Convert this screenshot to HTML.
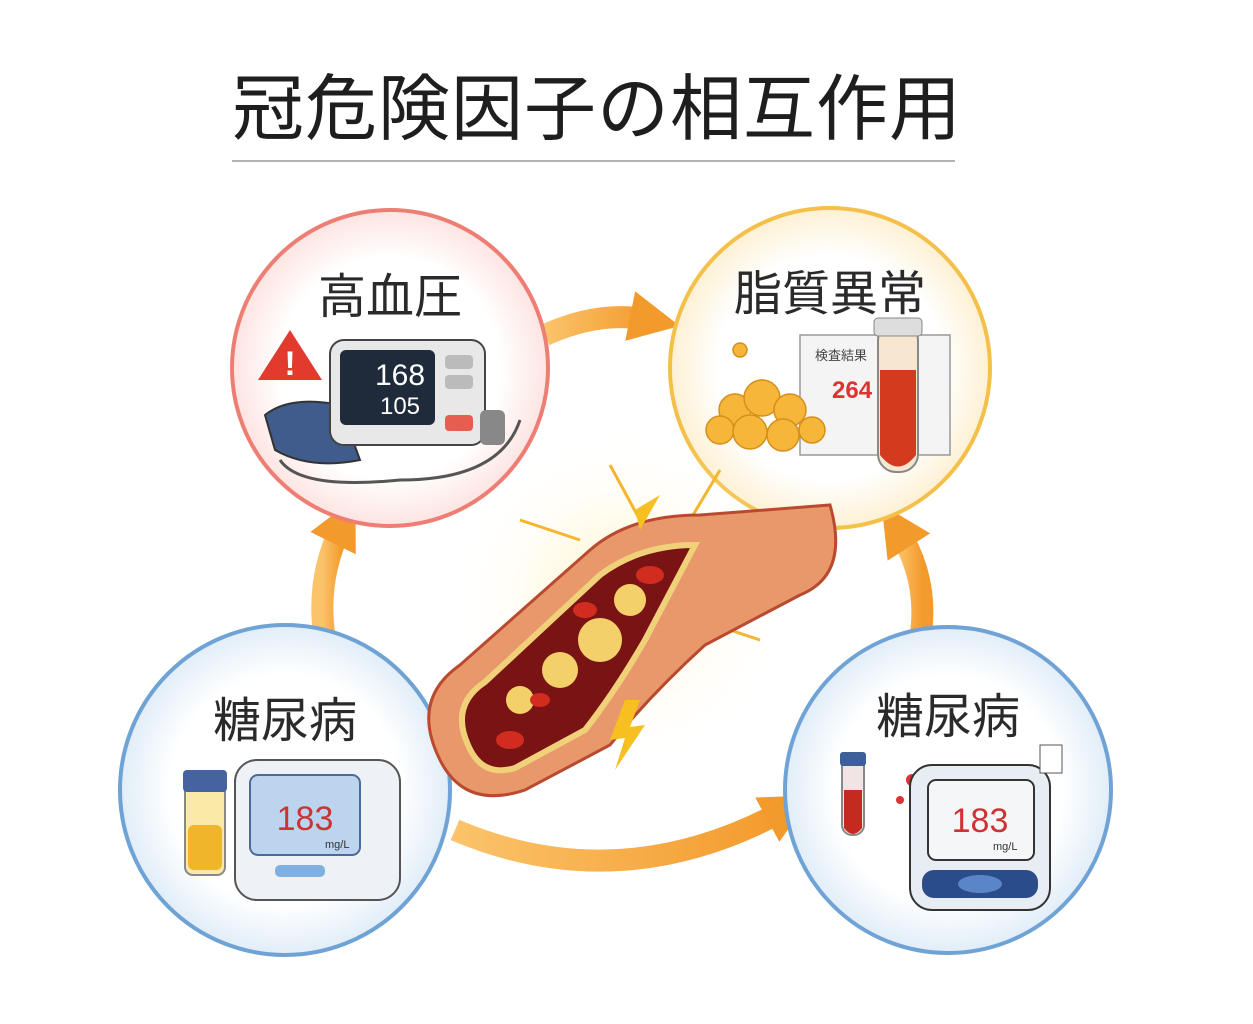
<!DOCTYPE html>
<html><head><meta charset="utf-8"><style>
html,body{margin:0;padding:0;background:#fff;}
svg{display:block;}
text{font-family:"Liberation Sans","Noto Sans CJK JP",sans-serif;}
</style></head><body>
<svg width="1253" height="1024" viewBox="0 0 1253 1024" xmlns="http://www.w3.org/2000/svg">
<defs>
<radialGradient id="gr" cx="50%" cy="50%" r="50%"><stop offset="70%" stop-color="#fff"/><stop offset="100%" stop-color="#fde4e1"/></radialGradient>
<radialGradient id="gy" cx="50%" cy="50%" r="50%"><stop offset="70%" stop-color="#fff"/><stop offset="100%" stop-color="#fdf1d4"/></radialGradient>
<radialGradient id="gb" cx="50%" cy="50%" r="50%"><stop offset="70%" stop-color="#fff"/><stop offset="100%" stop-color="#e1edf8"/></radialGradient>
<radialGradient id="glow" cx="50%" cy="50%" r="50%"><stop offset="0%" stop-color="#fff3c0"/><stop offset="100%" stop-color="#fff" stop-opacity="0"/></radialGradient>
<linearGradient id="arr" x1="0" x2="1"><stop offset="0" stop-color="#fbc36a"/><stop offset="1" stop-color="#f39a2c"/></linearGradient>
<marker id="ah" viewBox="0 0 10 10" refX="4" refY="5" markerWidth="2.3" markerHeight="2.3" orient="auto"><path d="M0,0 L10,5 L0,10 z" fill="#f39a2c"/></marker>
</defs>
<text x="597" y="134" font-size="72" text-anchor="middle" fill="#1e1e1e" letter-spacing="1">冠危険因子の相互作用</text>
<line x1="232" y1="161" x2="955" y2="161" stroke="#999" stroke-width="1.5"/>

<path d="M545,335 Q600,310 650,320" stroke="url(#arr)" stroke-width="22" fill="none" marker-end="url(#ah)"/>
<path d="M325,640 Q315,580 342,525" stroke="url(#arr)" stroke-width="22" fill="none" marker-end="url(#ah)"/>
<path d="M920,640 Q930,580 898,530" stroke="url(#arr)" stroke-width="22" fill="none" marker-end="url(#ah)"/>
<path d="M455,830 Q620,900 785,810" stroke="url(#arr)" stroke-width="22" fill="none" marker-end="url(#ah)"/>

<circle cx="390" cy="368" r="158" fill="url(#gr)" stroke="#ee7d74" stroke-width="4"/>
<circle cx="830" cy="368" r="160" fill="url(#gy)" stroke="#f4c04a" stroke-width="4"/>
<circle cx="285" cy="790" r="165" fill="url(#gb)" stroke="#6fa3d6" stroke-width="4"/>
<circle cx="948" cy="790" r="163" fill="url(#gb)" stroke="#6fa3d6" stroke-width="4"/>

<text x="390" y="313" font-size="48" text-anchor="middle" fill="#2a2a2a">高血圧</text>
<text x="830" y="310" font-size="48" text-anchor="middle" fill="#2a2a2a">脂質異常</text>
<text x="285" y="737" font-size="48" text-anchor="middle" fill="#2a2a2a">糖尿病</text>
<text x="948" y="733" font-size="48" text-anchor="middle" fill="#2a2a2a">糖尿病</text>

<path d="M265,415 Q290,395 340,405 L360,460 Q310,470 275,450 z" fill="#3f5c8c" stroke="#333" stroke-width="2"/>
<path d="M280,460 Q300,490 400,480 Q500,480 520,420" stroke="#555" stroke-width="3" fill="none"/>
<polygon points="290,330 258,380 322,380" fill="#e23b2e"/>
<text x="290" y="375" font-size="34" text-anchor="middle" fill="#fff" font-weight="bold">!</text>
<rect x="330" y="340" width="155" height="105" rx="14" fill="#e8e8e8" stroke="#444" stroke-width="2"/>
<rect x="340" y="350" width="95" height="75" rx="6" fill="#1f2b3a"/>
<text x="400" y="385" font-size="30" text-anchor="middle" fill="#fff">168</text>
<text x="400" y="414" font-size="24" text-anchor="middle" fill="#fff">105</text>
<rect x="445" y="355" width="28" height="14" rx="4" fill="#bbb"/>
<rect x="445" y="375" width="28" height="14" rx="4" fill="#bbb"/>
<rect x="445" y="415" width="28" height="16" rx="4" fill="#e85d50"/>
<rect x="480" y="410" width="25" height="35" rx="6" fill="#888"/>

<rect x="800" y="335" width="150" height="120" fill="#f4f4f4" stroke="#999" stroke-width="1.5"/>
<text x="815" y="360" font-size="13" fill="#444">検査結果</text>
<text x="832" y="398" font-size="24" fill="#d33" font-weight="bold">264</text>
<g fill="#f5b63a" stroke="#d68f1a" stroke-width="1.5">
<circle cx="735" cy="410" r="16"/><circle cx="762" cy="398" r="18"/><circle cx="790" cy="410" r="16"/><circle cx="720" cy="430" r="14"/><circle cx="750" cy="432" r="17"/><circle cx="783" cy="435" r="16"/><circle cx="812" cy="430" r="13"/><circle cx="740" cy="350" r="7"/>
</g>
<rect x="878" y="322" width="40" height="150" rx="18" fill="#f8e7d0" stroke="#888" stroke-width="2"/>
<path d="M880,370 L916,370 L916,455 Q898,478 880,455 z" fill="#d33a1e"/>
<rect x="874" y="318" width="48" height="18" rx="4" fill="#ddd" stroke="#888"/>

<rect x="185" y="775" width="40" height="100" rx="8" fill="#fbe9a8" stroke="#888" stroke-width="2"/>
<rect x="183" y="770" width="44" height="22" rx="4" fill="#4463a0"/>
<rect x="188" y="825" width="34" height="45" rx="6" fill="#f0b52b"/>
<rect x="235" y="760" width="165" height="140" rx="22" fill="#eef2f7" stroke="#555" stroke-width="2"/>
<rect x="250" y="775" width="110" height="80" rx="8" fill="#bcd4ee" stroke="#4a6b9a" stroke-width="2"/>
<text x="305" y="830" font-size="34" text-anchor="middle" fill="#c33">183</text>
<text x="325" y="848" font-size="11" fill="#333">mg/L</text>
<rect x="275" y="865" width="50" height="12" rx="5" fill="#7fb0e0"/>

<rect x="842" y="755" width="22" height="80" rx="10" fill="#f2e4e4" stroke="#888" stroke-width="2"/>
<rect x="840" y="752" width="26" height="14" rx="3" fill="#3d5f9a"/>
<path d="M844,790 L862,790 L862,828 Q853,840 844,828 z" fill="#c52a20"/>
<circle cx="912" cy="780" r="6" fill="#d33"/>
<circle cx="900" cy="800" r="4" fill="#d33"/>
<rect x="910" y="765" width="140" height="145" rx="22" fill="#e8edf4" stroke="#333" stroke-width="2"/>
<rect x="1040" y="745" width="22" height="28" fill="#fff" stroke="#555"/>
<rect x="928" y="780" width="106" height="80" rx="8" fill="#f4f6f8" stroke="#333" stroke-width="2"/>
<text x="980" y="832" font-size="34" text-anchor="middle" fill="#c33">183</text>
<text x="993" y="850" font-size="11" fill="#333">mg/L</text>
<rect x="922" y="870" width="116" height="28" rx="12" fill="#2a4c8a"/>
<ellipse cx="980" cy="884" rx="22" ry="9" fill="#5a86c8"/>

<circle cx="620" cy="600" r="170" fill="url(#glow)"/>
<g stroke="#f6b530" stroke-width="3">
<line x1="640" y1="520" x2="610" y2="465"/><line x1="690" y1="520" x2="720" y2="470"/><line x1="580" y1="540" x2="520" y2="520"/><line x1="710" y1="560" x2="770" y2="540"/><line x1="700" y1="620" x2="760" y2="640"/>
</g>
<path d="M440,760 Q410,700 460,665 L590,550 Q630,515 700,515 L830,505 Q850,575 800,595 L705,645 Q650,695 610,745 L525,790 Q465,810 440,760 z" fill="#e8986a" stroke="#b94a30" stroke-width="3"/>
<path d="M468,745 Q450,705 485,682 L600,575 Q640,545 695,545 L645,640 Q615,692 585,730 L515,768 Q482,778 468,745 z" fill="#7a1414" stroke="#f1d07a" stroke-width="6"/>
<g fill="#f4d06a"><circle cx="600" cy="640" r="22"/><circle cx="560" cy="670" r="18"/><circle cx="630" cy="600" r="16"/><circle cx="520" cy="700" r="14"/></g>
<g fill="#d22b20"><ellipse cx="510" cy="740" rx="14" ry="9"/><ellipse cx="650" cy="575" rx="14" ry="9"/><ellipse cx="585" cy="610" rx="12" ry="8"/><ellipse cx="540" cy="700" rx="10" ry="7"/></g>
<polygon points="625,700 610,740 625,738 615,770 645,725 630,727 640,700" fill="#f6c020"/>
<polygon points="625,470 635,510 660,495 640,530" fill="#f6c020"/>
</svg>
</body></html>
